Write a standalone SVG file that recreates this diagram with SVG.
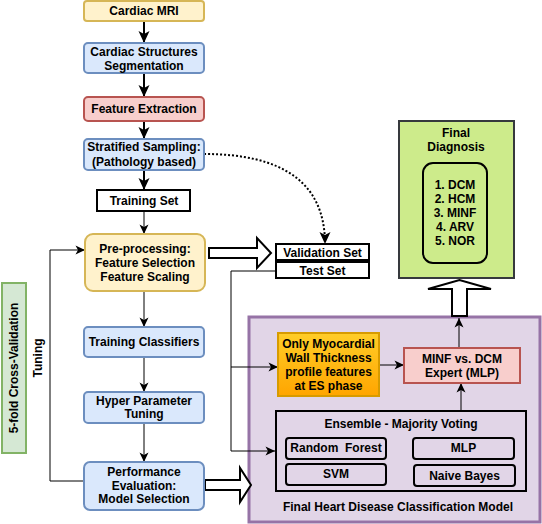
<svg xmlns="http://www.w3.org/2000/svg" width="542" height="524" viewBox="0 0 542 524">
<defs>
<style>
text{font-family:"Liberation Sans",Arial,Helvetica,sans-serif;font-size:12px;font-weight:bold;fill:#000;text-anchor:middle;white-space:pre}
.y{fill:#fff2cc;stroke:#d6b656;stroke-width:2}
.b{fill:#dae8fc;stroke:#6c8ebf;stroke-width:2}
.r{fill:#f8cecc;stroke:#b85450;stroke-width:2}
.w{fill:#fff;stroke:#000;stroke-width:2}
.e{fill:none;stroke:#000;stroke-width:2}
.c1{fill:none;stroke:#000;stroke-width:1}
.c2{fill:none;stroke:#000;stroke-width:2}
.blk{fill:#fff;stroke:#000;stroke-width:2;stroke-linejoin:miter}
</style>
<marker id="a1" markerWidth="12" markerHeight="12" refX="10" refY="6" orient="auto" markerUnits="userSpaceOnUse"><path d="M0.5,1.5 L10,6 L0.5,10.5 L3,6 Z" fill="#000"/></marker>
<marker id="a2" markerWidth="14" markerHeight="14" refX="13" refY="7" orient="auto" markerUnits="userSpaceOnUse"><path d="M1,1.5 L13,7 L1,12.5 L4,7 Z" fill="#000"/></marker>
<linearGradient id="og" x1="0" y1="0" x2="0" y2="1"><stop offset="0" stop-color="#ffcd28"/><stop offset="1" stop-color="#ffa500"/></linearGradient>
</defs>

<g id="crossval">
<rect x="2" y="283" width="24" height="170" fill="#d5e8d4" stroke="#82b366" stroke-width="2"/>
<text transform="translate(18,368) rotate(-90)">5-fold Cross-Validation</text>
</g>

<g id="purple">
<rect x="249" y="317" width="291" height="205" fill="#e1d5e7" stroke="#9673a6" stroke-width="3"/>
<text x="398" y="511">Final Heart Disease Classification Model</text>
</g>

<g id="connectors">
<path class="c2" d="M144,21 V43" marker-end="url(#a2)"/>
<path class="c2" d="M144,73 V97" marker-end="url(#a2)"/>
<path class="c2" d="M144,121 V139" marker-end="url(#a2)"/>
<path class="c2" d="M144,170 V190" marker-end="url(#a2)"/>
<path class="c1" d="M144,211 V234" marker-end="url(#a1)"/>
<path class="c1" d="M144,291 V327" marker-end="url(#a1)"/>
<path class="c1" d="M144,357 V392" marker-end="url(#a1)"/>
<path class="c1" d="M144,423 V462" marker-end="url(#a1)"/>
<path class="c1" d="M84,481 H50 V250 H85" marker-end="url(#a1)"/>
<path class="c2" d="M204,154 C282,154 325,182 325,244" stroke-dasharray="2 2" marker-end="url(#a2)"/>
<path class="c1" d="M276,271 H231 V451 H275" marker-end="url(#a1)"/>
<path class="c1" d="M231,367 H278" marker-end="url(#a1)"/>
<path class="c1" d="M379,365 H404" marker-end="url(#a1)"/>
<path class="c1" d="M461,411 V383" marker-end="url(#a1)"/>
<path class="c1" d="M459,348 V318" marker-end="url(#a1)"/>
<polygon class="blk" points="209,248 257,248 257,238 271,253 257,268 257,258 209,258"/>
<polygon class="blk" points="205,480 240,480 240,468 251,485 240,502 240,490 205,490"/>
<polygon class="blk" points="452,316 452,289 428,289 459.5,280 491,289 467,289 467,316"/>
<text transform="translate(42,358) rotate(-90)">Tuning</text>
</g>

<g id="mri"><rect class="y" x="84" y="1" width="120" height="20" rx="3"/><text x="144" y="15">Cardiac MRI</text></g>
<g id="seg"><rect class="b" x="84" y="43" width="120" height="30" rx="4"/><text x="144" y="56">Cardiac Structures</text><text x="144" y="70">Segmentation</text></g>
<g id="fe"><rect class="r" x="84" y="97" width="120" height="24" rx="4"/><text x="144" y="113">Feature Extraction</text></g>
<g id="ss"><rect class="b" x="84" y="139" width="120" height="31" rx="4"/><text x="144" y="151">Stratified Sampling:</text><text x="144" y="166">(Pathology based)</text></g>
<g id="train"><rect class="w" x="97" y="190" width="93" height="21"/><text x="144" y="205">Training Set</text></g>
<g id="pre"><rect class="y" x="85" y="234" width="120" height="57" rx="8"/><text x="145" y="253">Pre-processing:</text><text x="145" y="267">Feature Selection</text><text x="145" y="281">Feature Scaling</text></g>
<g id="tc"><rect class="b" x="84" y="327" width="120" height="30" rx="4"/><text x="144" y="346">Training Classifiers</text></g>
<g id="hp"><rect class="b" x="84" y="392" width="120" height="31" rx="4"/><text x="144" y="405">Hyper Parameter</text><text x="144" y="418">Tuning</text></g>
<g id="pe"><rect class="b" x="84" y="462" width="120" height="48" rx="6"/><text x="144" y="476">Performance</text><text x="144" y="490">Evaluation:</text><text x="144" y="503">Model Selection</text></g>
<g id="val"><rect class="w" x="276" y="244" width="93" height="16"/><text x="322.5" y="257">Validation Set</text></g>
<g id="test"><rect class="w" x="276" y="262" width="93" height="16"/><text x="322.5" y="275">Test Set</text></g>

<g id="final">
<rect x="399" y="121" width="115" height="157" fill="#cdeb8b" stroke="#36393d" stroke-width="2"/>
<text x="456" y="137">Final</text><text x="456" y="151">Diagnosis</text>
<rect x="423" y="163" width="64" height="100" rx="10" fill="none" stroke="#000" stroke-width="2"/>
<text x="455" y="189">1. DCM</text><text x="455" y="203">2. HCM</text><text x="455" y="217">3. MINF</text><text x="455" y="231">4. ARV</text><text x="455" y="245">5. NOR</text>
</g>

<g id="myo"><rect x="278" y="333" width="101" height="63" fill="url(#og)" stroke="#d79b00" stroke-width="2"/>
<text x="328.5" y="348">Only Myocardial</text><text x="328.5" y="362">Wall Thickness</text><text x="328.5" y="376">profile features</text><text x="328.5" y="390">at ES phase</text></g>
<g id="expert"><rect class="r" x="404" y="348" width="116" height="35"/><text x="462" y="363">MINF vs. DCM</text><text x="462" y="377">Expert (MLP)</text></g>

<g id="ensemble">
<rect class="e" x="276" y="411" width="250" height="80"/>
<text x="401" y="428">Ensemble - Majority Voting</text>
</g>
<g id="rf"><rect class="e" x="286" y="438" width="100" height="21" rx="3"/><text x="336" y="452">Random  Forest</text></g>
<g id="mlp"><rect class="e" x="413" y="438" width="101" height="21" rx="3"/><text x="463.5" y="452">MLP</text></g>
<g id="svm"><rect class="e" x="286" y="464" width="100" height="21" rx="3"/><text x="336" y="478">SVM</text></g>
<g id="nb"><rect class="e" x="414" y="465" width="101" height="21" rx="3"/><text x="464.5" y="480">Naive Bayes</text></g>
</svg>
